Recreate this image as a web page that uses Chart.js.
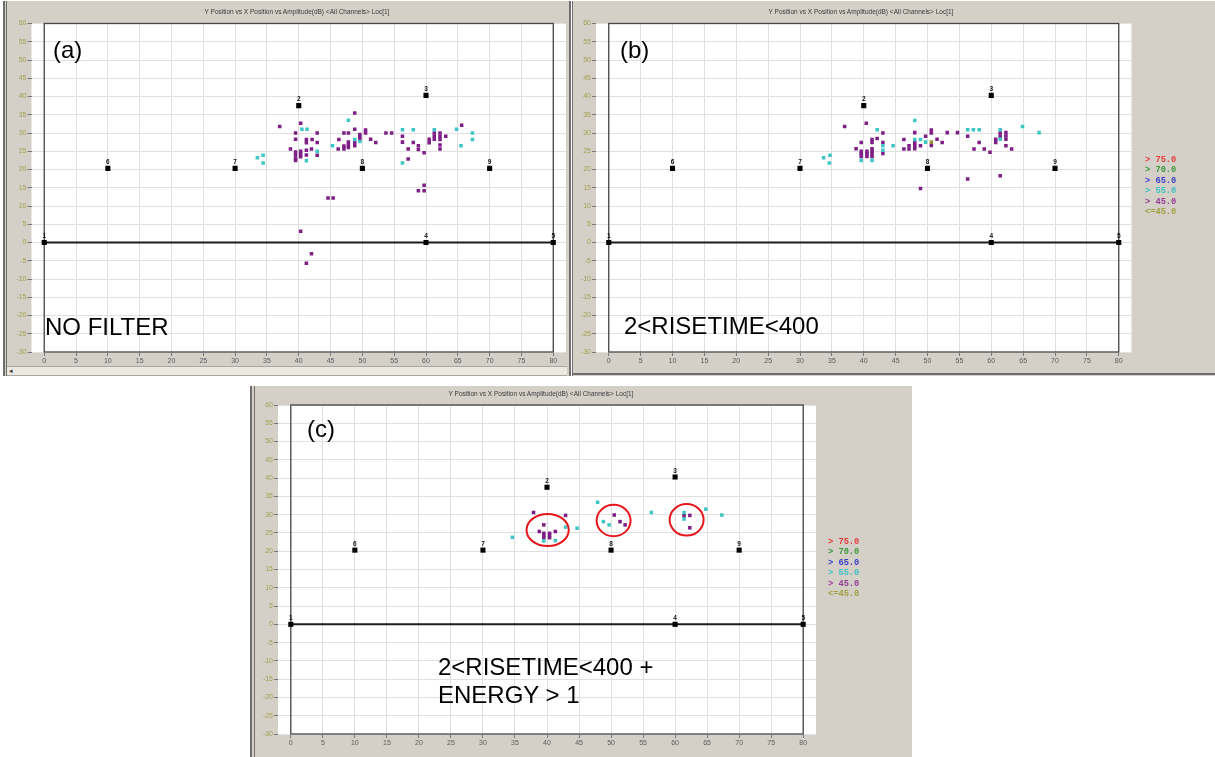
<!DOCTYPE html>
<html>
<head>
<meta charset="utf-8">
<script src="https://cdn.jsdelivr.net/npm/chart.js@4.4.1/dist/chart.umd.min.js"></script>
<style>
body { margin: 0; width: 1215px; height: 757px; background: #fff; position: relative; overflow: hidden; font-family: Arial, "Liberation Sans", sans-serif; }
.panel { position: absolute; background: #d4d0c8; }
.panel canvas { position: absolute; left: 0; top: 0; }
.title { position: absolute; font-size: 6.5px; color: #3a3a3a; white-space: nowrap; transform: translateX(-50%); }
.note { position: absolute; font-size: 24px; line-height: 28px; color: #000; white-space: nowrap; }
.legend { position: absolute; font: bold 8.7px "Liberation Mono", "DejaVu Sans Mono", monospace; line-height: 10.4px; white-space: pre; }
.edge { position: absolute; background: #6e6e6e; }
.scroll { position: absolute; background: #ebe8e0; border-top: 1px solid #a8a8a8; border-bottom: 1px solid #a8a8a8; font-size: 7px; color: #333; line-height: 8px; }
</style>
</head>
<body>

<div class="panel" style="left:4px; top:1px; width:566px; height:375px;">
  <canvas id="chartA" width="566" height="365"></canvas>
</div>
<div class="panel" style="left:572px; top:1px; width:643px; height:375px;">
  <canvas id="chartB" width="643" height="365"></canvas>
</div>
<div class="panel" style="left:250px; top:386px; width:662px; height:371px;">
  <canvas id="chartC" width="662" height="362"></canvas>
</div>

<div class="edge" style="left:3px; top:1px; width:2px; height:375px;"></div>
<div class="edge" style="left:6px; top:1px; width:1px; height:375px;"></div>
<div class="edge" style="left:569px; top:1px; width:2px; height:375px;"></div>
<div class="edge" style="left:572px; top:1px; width:1px; height:375px;"></div>
<div class="edge" style="left:572px; top:373px; width:643px; height:2px;"></div>
<div class="edge" style="left:250px; top:386px; width:2px; height:371px;"></div>
<div class="edge" style="left:254px; top:386px; width:1px; height:371px;"></div>
<div class="scroll" style="left:7px; top:366px; width:560px; height:8px;">&nbsp;&#9666;</div>

<div class="title" style="left:297px; top:8px;">Y Position vs X Position vs Amplitude(dB) &lt;All Channels&gt; Loc[1]</div>
<div class="title" style="left:861px; top:8px;">Y Position vs X Position vs Amplitude(dB) &lt;All Channels&gt; Loc[1]</div>
<div class="title" style="left:541px; top:390px;">Y Position vs X Position vs Amplitude(dB) &lt;All Channels&gt; Loc[1]</div>

<div class="note" style="left:53px; top:36px;">(a)</div>
<div class="note" style="left:45px; top:313px;">NO FILTER</div>
<div class="note" style="left:620px; top:36px;">(b)</div>
<div class="note" style="left:624px; top:312px;">2&lt;RISETIME&lt;400</div>
<div class="note" style="left:307px; top:415px;">(c)</div>
<div class="note" style="left:438px; top:653px;">2&lt;RISETIME&lt;400 +<br>ENERGY &gt; 1</div>

<div class="legend" id="legendB" style="left:1145px; top:155px;"></div>
<div class="legend" id="legendC" style="left:828px; top:537px;"></div>

<script>
// Amplitude classes shown in the legend
const legendLabels = ['> 75.0', '> 70.0', '> 65.0', '> 55.0', '> 45.0', '<=45.0'];
const legendColors = ['#e23c3c', '#3c963c', '#3c3ccc', '#3fc2c2', '#963c96', '#a0a040'];

// Axis ticks
const xTicks = [0, 5, 10, 15, 20, 25, 30, 35, 40, 45, 50, 55, 60, 65, 70, 75, 80];
const yTicks = [60, 55, 50, 45, 40, 35, 30, 25, 20, 15, 10, 5, 0, -5, -10, -15, -20, -25, -30];

// Sensor positions
const sensorIds = ['1', '2', '3', '4', '5', '6', '7', '8', '9'];
const sensorX = [0, 40, 60, 60, 80, 10, 30, 50, 70];
const sensorY = [0, 37.5, 40.3, 0, 0, 20.3, 20.3, 20.3, 20.3];

// (a) no filter
const aPurple = [
    [37, 31.8], [40.3, 32.7], [39.5, 30], [39.5, 28.3], [38.7, 25.6],
    [39.5, 24.8], [39.5, 24], [39.5, 23.1], [39.5, 22.5], [40.3, 25], [40.3, 24.2], [40.3, 23.5],
    [41.2, 28.2], [41.2, 27.3], [41.2, 25.3], [41.2, 24], [42.1, 28.2], [42, 25.6],
    [42.9, 30], [42.9, 27.4], [42.9, 23.9],
    [44.6, 12.2], [45.4, 12.2], [40.3, 3.1], [42, -3.1], [41.2, -5.7],
    [46.3, 28.2], [46.2, 25.6], [47.1, 30], [47.8, 30], [47.1, 26.4], [47.1, 25.6],
    [47.8, 27.5], [47.8, 26.7], [47.8, 26], [48.8, 35.5], [48.8, 31], [48.8, 27.5], [48.8, 26.5],
    [49.6, 29.6], [49.6, 28.9], [49.6, 28.2], [50.5, 30.8], [50.5, 30], [51.3, 28.3], [52.1, 27.4],
    [53.7, 30], [54.6, 30], [56.3, 29.1], [56.3, 27.5], [57.2, 25.6], [58, 27.4], [57.2, 22.9],
    [58.8, 26.5], [58.8, 25.5], [59.7, 24.6], [58.8, 14.2], [59.7, 14.2], [59.7, 15.7],
    [60.5, 28.3], [60.5, 27.3], [61.3, 30], [61.3, 29.1], [61.3, 28.3],
    [62.2, 30], [62.2, 29.1], [62.2, 28.2], [62.2, 26.7], [62.2, 25.6], [63.1, 29.1], [65.6, 32.1]
];
const aCyan = [
    [33.5, 23.2], [34.4, 23.9], [34.4, 21.8], [40.5, 31], [41.3, 31], [41.2, 22.4], [42.9, 25],
    [45.3, 26.5], [47.8, 33.5], [48.8, 28.2], [49.6, 27.7], [56.3, 30.9], [58, 30.9], [56.3, 21.8],
    [61.3, 30.9], [64.8, 31], [65.5, 26.5], [67.3, 30], [67.3, 28.2]
];

// (b) 2 < risetime < 400
const bPurple = [
    [37, 31.8], [40.4, 32.7], [39.6, 27.4], [38.8, 25.7],
    [39.6, 25], [39.6, 24.3], [39.6, 23.6], [40.5, 25], [40.5, 24.3], [40.5, 23.6],
    [41.3, 25], [41.3, 24.3], [41.3, 23.6], [41.3, 28.2], [41.3, 27.4], [41.3, 25.7],
    [42.1, 28.5], [43, 30], [43, 27.4], [43, 24.4],
    [46.3, 28.2], [46.3, 25.6], [47.1, 26.5], [47.1, 25.6], [48, 30.1], [48, 27.4], [48, 26.5], [48, 25.7],
    [48.9, 26.5], [48.9, 14.8], [49.7, 29.1], [50.6, 30.8], [50.6, 30], [50.6, 26.6],
    [51.5, 28.3], [52.3, 27.4], [53.1, 30.1], [54.7, 30.1],
    [56.3, 29.1], [58.1, 27.4], [57.3, 25.6], [58.9, 25.6], [59.8, 24.7], [56.3, 17.4], [61.4, 18.3],
    [60.7, 28.3], [60.7, 27.4], [61.4, 30], [61.4, 29.1],
    [62.3, 30.1], [62.3, 29.2], [62.3, 28.3], [62.3, 26.5], [63.2, 25.6]
];
const bCyan = [
    [33.7, 23.2], [34.7, 23.9], [34.6, 21.8], [42.1, 30.9], [39.6, 22.5], [41.3, 22.5],
    [43, 26.5], [43, 25.3], [44.6, 26.5], [48, 33.4], [48, 28.2], [48.9, 28.2], [49.7, 27.5],
    [56.3, 30.9], [57.2, 30.9], [58.1, 30.9], [61.4, 30.9], [61.4, 28.3], [64.9, 31.8], [67.5, 30.1]
];
const bOlive = [[50.6, 27.5]];

// (c) 2 < risetime < 400 + energy > 1
const cPurple = [
    [37.9, 30.6], [39.5, 27.2], [38.8, 25.4], [39.5, 24.9], [39.5, 24.3], [39.5, 23.7],
    [40.4, 24.9], [40.4, 24.3], [40.4, 23.7], [41.3, 25.4], [42.9, 29.8],
    [50.5, 29.9], [51.4, 28.1], [52.2, 27.2], [61.4, 29.7], [62.3, 29.8], [62.3, 26.4]
];
const cCyan = [
    [34.6, 23.8], [39.5, 22.8], [41.3, 22.9], [42.9, 26.6], [44.7, 26.3], [47.9, 33.4],
    [48.8, 28.1], [49.7, 27.2], [56.3, 30.6], [61.4, 30.6], [61.4, 28.8], [64.8, 31.5], [67.3, 29.9]
];
// highlighted clusters: centre x, centre y, half-width, half-height (data units)
const cCircles = [[40.1, 25.8, 3.3, 4.4], [50.4, 28.4, 2.65, 4.3], [61.8, 28.6, 2.65, 4.3]];

const PURPLE = '#7e1f86';
const CYAN = '#3ec6c6';
const OLIVE = '#9c9c34';

// White plot area, outer frame, sensor numbers and highlight rings
const panelDecor = {
    id: 'panelDecor',
    beforeDraw(chart) {
        const { ctx, chartArea: a } = chart;
        ctx.save();
        ctx.fillStyle = '#fff';
        ctx.fillRect(a.left, a.top, a.width, a.height);
        ctx.restore();
    },
    beforeDatasetsDraw(chart) {
        const { ctx, scales: { x, y } } = chart;
        ctx.save();
        ctx.strokeStyle = '#454545';
        ctx.lineWidth = 1.3;
        const x0 = x.getPixelForValue(xTicks[0]);
        const x1 = x.getPixelForValue(xTicks[xTicks.length - 1]);
        const y0 = y.getPixelForValue(yTicks[0]);
        const y1 = y.getPixelForValue(yTicks[yTicks.length - 1]);
        ctx.strokeRect(x0, y0, x1 - x0, y1 - y0);
        ctx.restore();
    },
    afterDatasetsDraw(chart, args, opts) {
        const { ctx, scales: { x, y } } = chart;
        ctx.save();
        ctx.fillStyle = '#111';
        ctx.font = 'bold 6.5px Arial';
        ctx.textAlign = 'center';
        ctx.textBaseline = 'bottom';
        sensorIds.forEach((id, i) => {
            ctx.fillText(id, x.getPixelForValue(sensorX[i]), y.getPixelForValue(sensorY[i]) - 3);
        });
        (opts.circles || []).forEach(([cx, cy, rx, ry]) => {
            const px = x.getPixelForValue(cx);
            const py = y.getPixelForValue(cy);
            const w = Math.abs(x.getPixelForValue(cx + rx) - px);
            const h = Math.abs(y.getPixelForValue(cy + ry) - py);
            ctx.beginPath();
            ctx.ellipse(px, py, w, h, 0, 0, Math.PI * 2);
            ctx.strokeStyle = '#e8161b';
            ctx.lineWidth = 2;
            ctx.stroke();
        });
        ctx.restore();
    }
};

const toPoints = arr => arr.map(([x, y]) => ({ x, y }));

function buildChart(canvasId, padding, purple, cyan, olive, circles) {
    const sensors = sensorX.map((x, i) => ({ x, y: sensorY[i] }));
    const dot = { pointStyle: 'rect', pointRadius: 2.5, borderWidth: 0 };

    return new Chart(document.getElementById(canvasId), {
        type: 'scatter',
        data: {
            datasets: [
                { label: 'sensors', data: sensors, backgroundColor: '#000', pointStyle: 'rect', pointRadius: 3.6, borderWidth: 0 },
                { label: legendLabels[3], data: toPoints(cyan), backgroundColor: CYAN, ...dot },
                { label: legendLabels[4], data: toPoints(purple), backgroundColor: PURPLE, ...dot },
                { label: legendLabels[5], data: toPoints(olive), backgroundColor: OLIVE, ...dot },
                {
                    label: 'baseline', type: 'line',
                    data: [sensors[0], sensors[4]],
                    borderColor: '#1c1c1c', borderWidth: 2, pointRadius: 0, fill: false
                }
            ]
        },
        options: {
            responsive: false,
            animation: false,
            events: [],
            layout: { padding },
            plugins: {
                legend: { display: false },
                tooltip: { enabled: false },
                panelDecor: { circles }
            },
            scales: {
                x: {
                    type: 'linear',
                    min: -2,
                    max: 82,
                    afterBuildTicks: s => { s.ticks = xTicks.map(v => ({ value: v })); },
                    afterFit: s => { s.height = 14; },
                    border: { display: false },
                    grid: { color: '#e0e0e0', tickColor: '#777', tickLength: 4 },
                    ticks: { color: '#5a5a5a', font: { size: 7, family: 'Arial' }, padding: 1, maxRotation: 0, autoSkip: false }
                },
                y: {
                    min: -30,
                    max: 60,
                    afterBuildTicks: s => { s.ticks = yTicks.map(v => ({ value: v })); },
                    afterFit: s => { s.width = 20; },
                    border: { display: false },
                    grid: { color: '#e0e0e0', tickColor: '#777', tickLength: 4 },
                    ticks: { color: '#a4a050', font: { size: 7, family: 'Arial' }, padding: 1, autoSkip: false }
                }
            }
        },
        plugins: [panelDecor]
    });
}

function fillLegend(id) {
    document.getElementById(id).innerHTML = legendLabels
        .map((t, i) => `<span style="color:${legendColors[i]}">${t.replace('<', '&lt;')}</span>`)
        .join('\n');
}

buildChart('chartA', { left: 7.5, right: 3, top: 22.5, bottom: 0 }, aPurple, aCyan, [], []);
buildChart('chartB', { left: 4, right: 83.5, top: 22.5, bottom: 0 }, bPurple, bCyan, bOlive, []);
buildChart('chartC', { left: 8, right: 96, top: 19, bottom: 0 }, cPurple, cCyan, [], cCircles);
fillLegend('legendB');
fillLegend('legendC');
</script>
</body>
</html>
